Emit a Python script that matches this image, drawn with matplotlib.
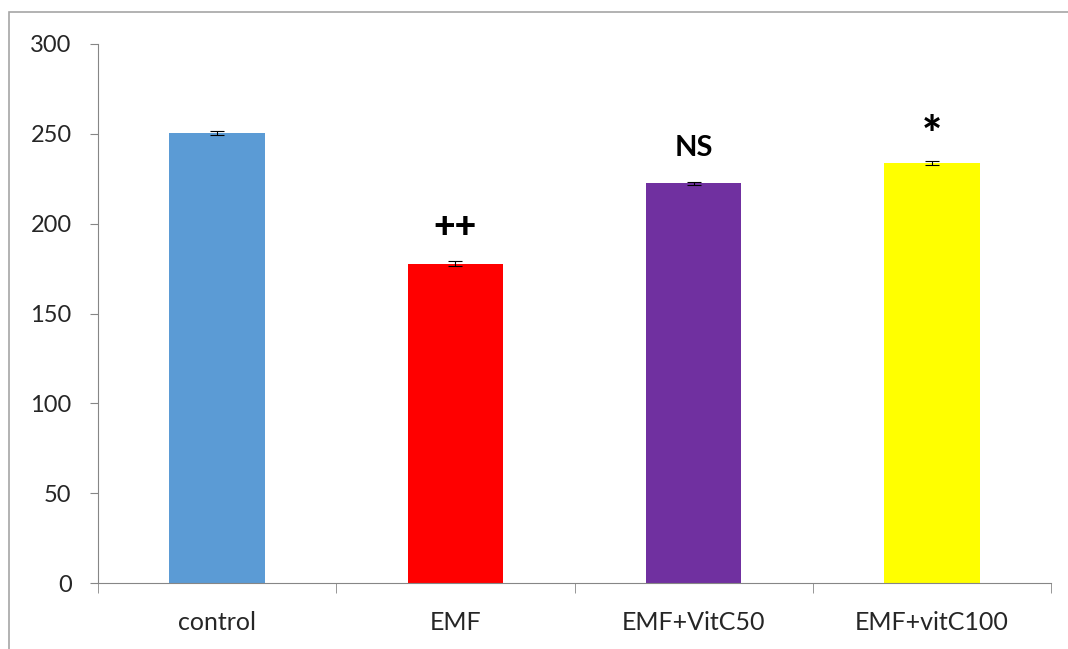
import matplotlib
matplotlib.use("Agg")
import matplotlib.pyplot as plt
from matplotlib.patches import Rectangle

groups = ["control", "EMF", "EMF+VitC50", "EMF+vitC100"]
values = [250.3, 177.8, 222.4, 233.8]
errors = [1.0, 1.3, 1.0, 1.0]
bar_colors = ["#5b9bd5", "#ff0000", "#7030a0", "#ffff00"]
marks = ["", "++", "NS", "*"]
mark_y = [None, 198, 242, 248]

plt.rcParams["font.family"] = ["Lato", "DejaVu Sans"]

fig = plt.figure(figsize=(10.68, 6.49), dpi=100)
ax = fig.add_axes([98 / 1068, 1 - 583 / 649, (1051 - 98) / 1068, (583 - 44) / 649])

x = range(len(groups))
ax.bar(x, values, width=0.4, color=bar_colors, zorder=2)
ax.errorbar(x, values, yerr=errors, fmt="none", ecolor="black",
            elinewidth=0.8, capsize=5, capthick=0.8, zorder=3)

# significance marks (heavy like the original)
styles = {"++": (27, "black"), "NS": (21, "bold"), "*": (34, "black")}
for i, m in enumerate(marks):
    if not m:
        continue
    size, weight = styles[m]
    ax.text(i, mark_y[i], m, ha="center", va="center", family=["Lato"],
            fontsize=size, fontweight=weight, color="black")

ax.set_xlim(-0.5, 3.5)
ax.set_ylim(0, 300)
ax.set_yticks([0, 50, 100, 150, 200, 250, 300])
ax.set_xticks(list(x))
ax.set_xticklabels(groups)
ax.set_xticks([0.5 + i for i in range(-1, 4)], minor=True)

gray = "#868686"
for side in ["top", "right"]:
    ax.spines[side].set_visible(False)
for side in ["left", "bottom"]:
    ax.spines[side].set_color(gray)
ax.tick_params(axis="y", colors=gray, labelcolor="#262626", labelsize=17,
               length=6, pad=13)
ax.tick_params(axis="x", which="major", length=0, labelsize=18,
               labelcolor="#262626", pad=20)
ax.tick_params(axis="x", which="minor", length=7, color=gray)

# outer chart border
fig.patches.append(Rectangle((9 / 1068, -0.1), 1.2, 1.1 - 12 / 649,
                             transform=fig.transFigure, fill=False,
                             edgecolor="#a6a6a6", linewidth=1.2))

fig.savefig("out.png", dpi=100)
